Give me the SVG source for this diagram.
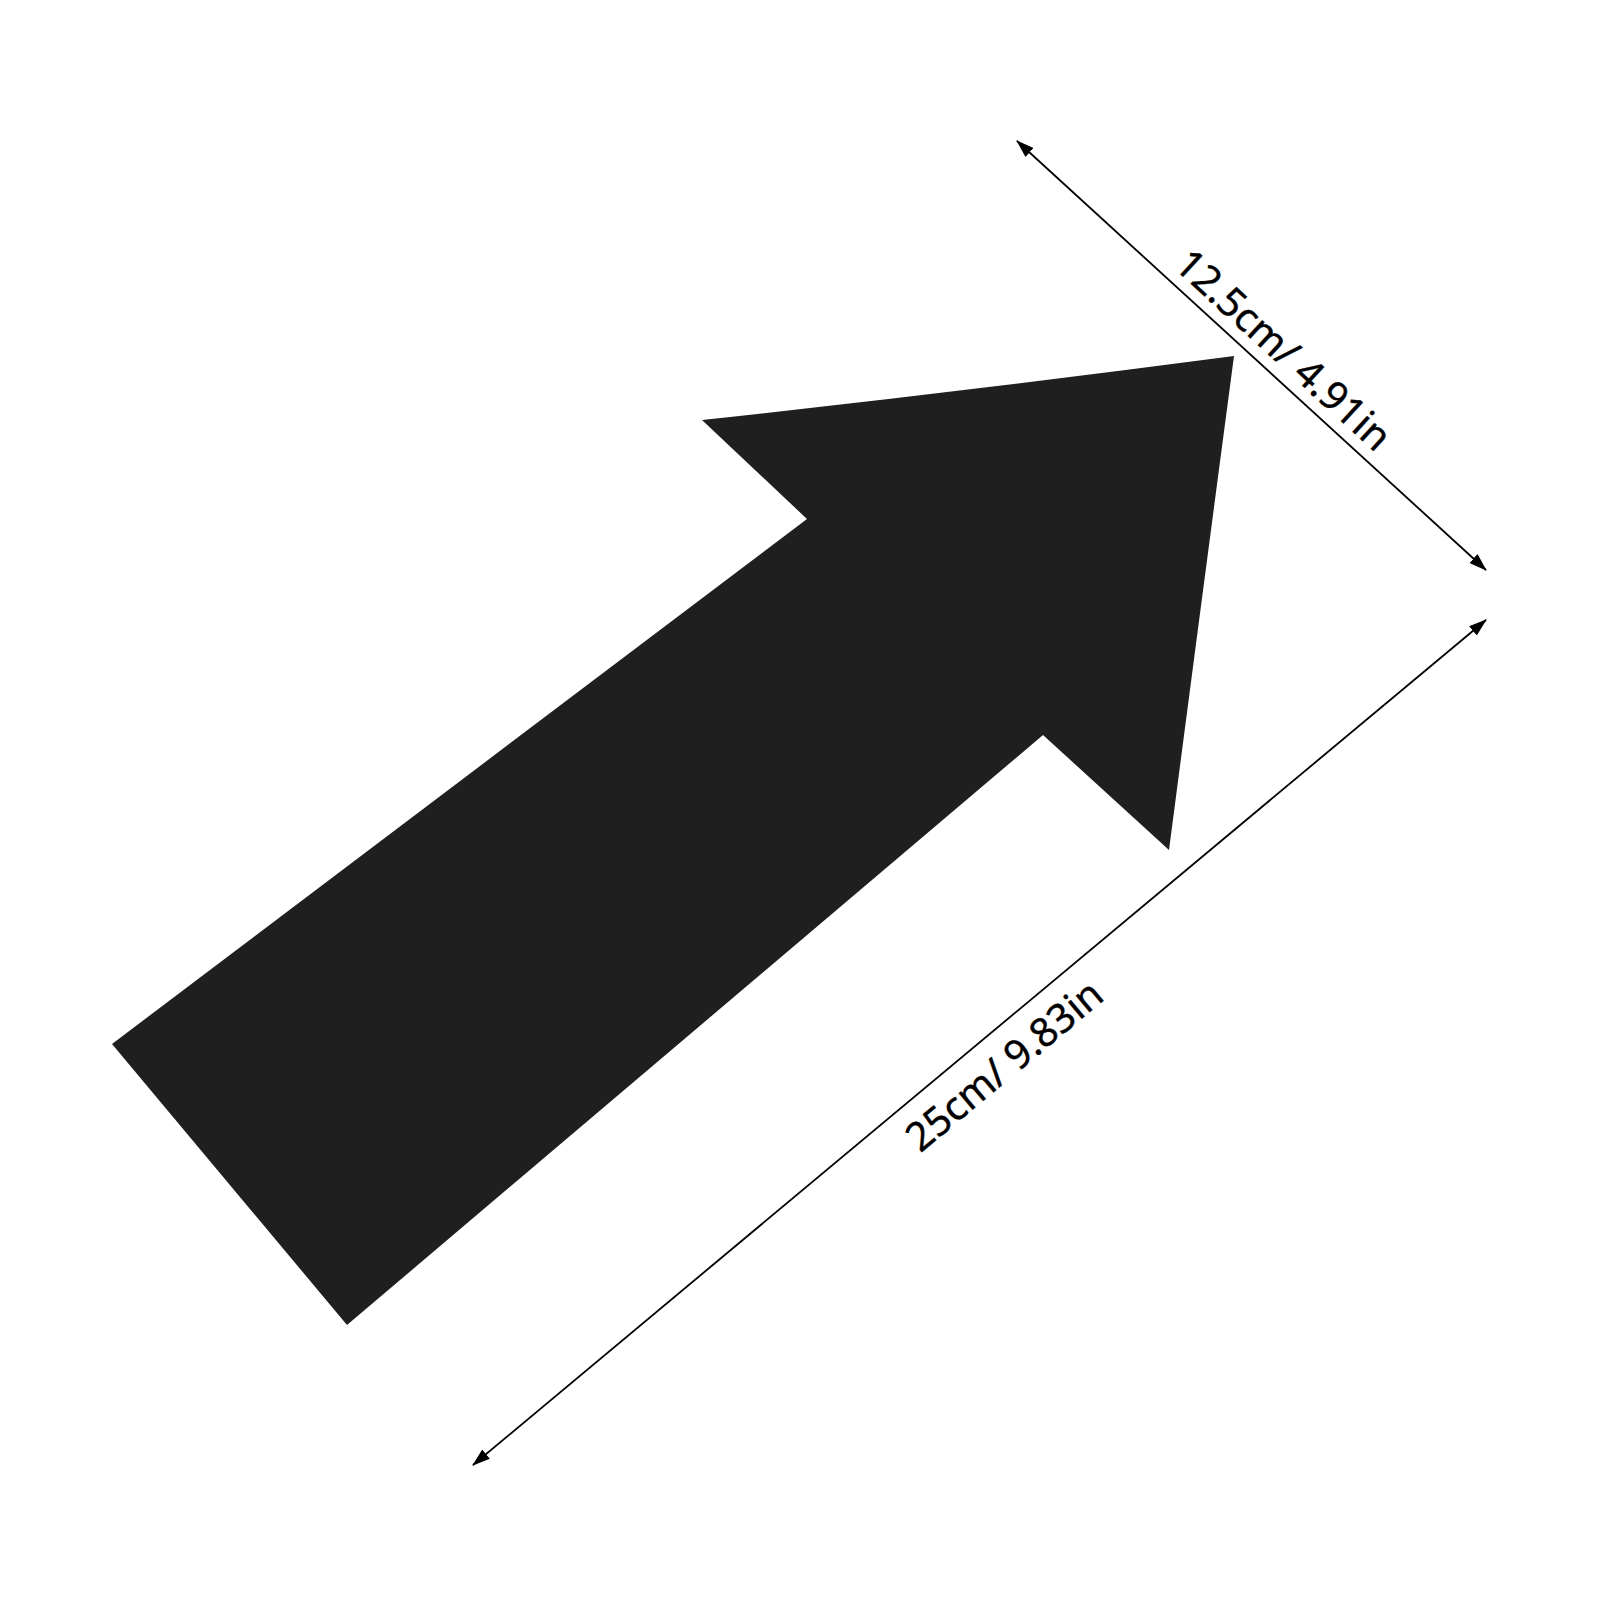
<svg xmlns="http://www.w3.org/2000/svg" width="1600" height="1600" viewBox="0 0 1600 1600">
<style>
.dim{stroke:#000;stroke-width:1.8;fill:none}
.lbl{font-family:"Noto Sans","Open Sans",sans-serif;font-size:40px;fill:#000;stroke:#000;stroke-width:0.4;text-anchor:middle}
</style>
<defs>
<marker id="ah" viewBox="0 0 18 12" refX="17" refY="6" markerWidth="18" markerHeight="12" markerUnits="userSpaceOnUse" orient="auto-start-reverse">
<path d="M0,0 L18,6 L0,12 Z" fill="#000"/>
</marker>
</defs>
<rect width="1600" height="1600" fill="#fff"/>
<g id="arrow-shape">
<path d="M112,1044 L807,519 L702,420 Q968,391 1234,356 Q1201,605 1169,850 L1043,735 L347,1325 Z" fill="#1f1f1f"/>
</g>
<g id="connectors">
<line class="dim" x1="1017" y1="141" x2="1486" y2="570" marker-start="url(#ah)" marker-end="url(#ah)"/>
<line class="dim" x1="1486" y1="620" x2="473" y2="1465" marker-start="url(#ah)" marker-end="url(#ah)"/>
</g>
<g id="label-width">
<text class="lbl" transform="translate(1266,369) rotate(42.45)" y="-12">12.5cm/ 4.91in</text>
</g>
<g id="label-length">
<text class="lbl" transform="translate(983,1040) rotate(-39.83)" y="47">25cm/ 9.83in</text>
</g>
</svg>
